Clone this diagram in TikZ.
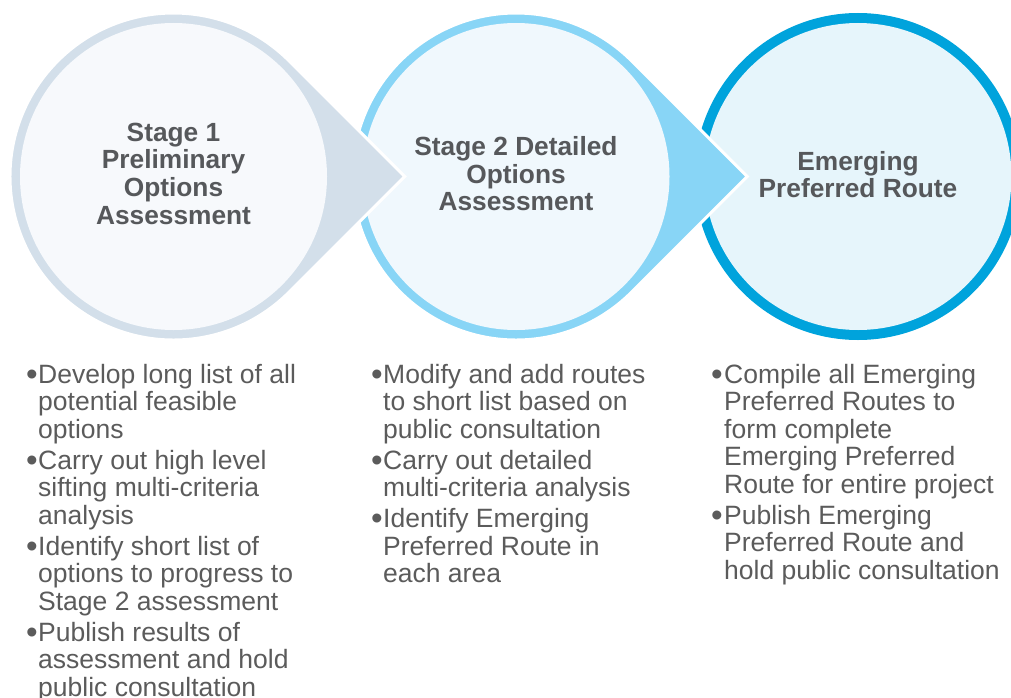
\documentclass[tikz,border=0pt]{standalone}
\usepackage{fontspec}
\usepackage{graphicx}
\setmainfont{Liberation Sans}
\definecolor{ringA}{HTML}{D3DFEA}
\definecolor{fillA}{HTML}{F7F9FC}
\definecolor{ringB}{HTML}{88D5F6}
\definecolor{fillB}{HTML}{F0F8FD}
\definecolor{ringC}{HTML}{00A3DC}
\definecolor{fillC}{HTML}{E6F5FB}
\definecolor{headcol}{HTML}{56585B}
\definecolor{bodycol}{HTML}{5B5B5B}
\newcommand{\mybul}[1]{\makebox[#1][l]{\raisebox{-2.2pt}{\scalebox{1.25}{\textbullet}}}}
\tikzset{
  headtext/.style={font=\fontsize{26.3}{27.5}\selectfont\bfseries, text=headcol, inner sep=0pt, anchor=base},
  bodytext/.style={font=\fontsize{26.5}{27.5}\selectfont, text=bodycol, inner sep=0pt, anchor=base west},
  tipedge/.style={draw=white, line width=3pt, line join=miter}
}
\begin{document}
\begin{tikzpicture}[x=1pt,y=-1pt]
\useasboundingbox (0,0) rectangle (1011,698);
\clip (0,0) rectangle (1011,698);
% circle 3
\fill[ringC] (858,176.5) circle[radius=163.5];
\fill[fillC] (858,176.5) circle[radius=153.5];
% circle 2 with arrow tip
\path[fill=ringB, tipedge] (747.2,176.5) -- (631.6,60.9) arc[start angle=-45, end angle=-315, radius=163.5] -- cycle;
\fill[fillB] (516,176.5) circle[radius=153.5];
% circle 1 with arrow tip
\path[fill=ringA, tipedge] (404.7,176.5) -- (289.1,60.9) arc[start angle=-45, end angle=-315, radius=163.5] -- cycle;
\fill[fillA] (173.5,176.5) circle[radius=153.5];
% headings
\node[headtext] (h1) at (173.5,141.5) {\begin{tabular}[t]{@{}c@{}}Stage 1\\Preliminary\\Options\\Assessment\end{tabular}};
\node[headtext] (h2) at (516,155.5) {\begin{tabular}[t]{@{}c@{}}Stage 2 Detailed\\Options\\Assessment\end{tabular}};
\node[headtext] (h3) at (858,170) {\begin{tabular}[t]{@{}c@{}}Emerging\\Preferred Route\end{tabular}};
% bullet lists
\node[bodytext] (l1) at (26,383) {\begin{tabular}[t]{@{}l@{}l@{}}
\mybul{12pt}&Develop long list of all\\
&potential feasible\\
&options\\[3.5pt]
\mybul{12pt}&Carry out high level\\
&sifting multi-criteria\\
&analysis\\[3.5pt]
\mybul{12pt}&Identify short list of\\
&options to progress to\\
&Stage 2 assessment\\[3.5pt]
\mybul{12pt}&Publish results of\\
&assessment and hold\\
&public consultation
\end{tabular}};
\node[bodytext] (l2) at (371,383) {\begin{tabular}[t]{@{}l@{}l@{}}
\mybul{12pt}&Modify and add routes\\
&to short list based on\\
&public consultation\\[3.5pt]
\mybul{12pt}&Carry out detailed\\
&multi-criteria analysis\\[3.5pt]
\mybul{12pt}&Identify Emerging\\
&Preferred Route in\\
&each area
\end{tabular}};
\node[bodytext] (l3) at (711,383) {\begin{tabular}[t]{@{}l@{}l@{}}
\mybul{13pt}&Compile all Emerging\\
&Preferred Routes to\\
&form complete\\
&Emerging Preferred\\
&Route for entire project\\[3.5pt]
\mybul{13pt}&Publish Emerging\\
&Preferred Route and\\
&hold public consultation
\end{tabular}};
\end{tikzpicture}
\end{document}
